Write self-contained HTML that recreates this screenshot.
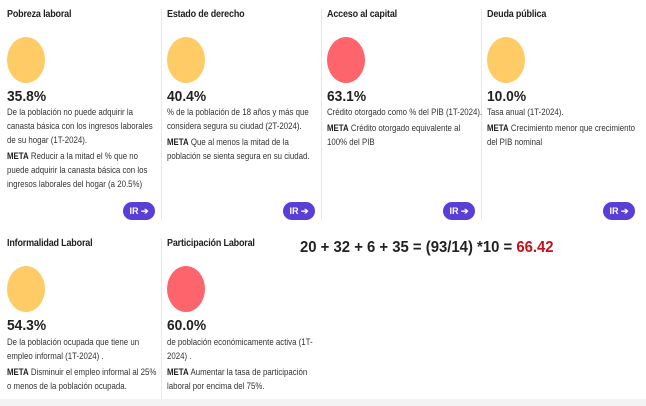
<!DOCTYPE html>
<html><head><meta charset="utf-8"><style>
*{margin:0;padding:0;box-sizing:border-box}
body{width:646px;height:406px;background:#fff;position:relative;overflow:hidden;font-family:"Liberation Sans",sans-serif;color:#222}
.c{position:absolute;width:156px}
.t{position:absolute;font-size:10px;font-weight:bold;letter-spacing:-0.2px;white-space:nowrap;transform:scaleX(.9);transform-origin:left}
.o{position:absolute;width:38px;height:46px;border-radius:50%}
.y{background:#fecb67}.r{background:#fe646b}
.v{position:absolute;font-size:15px;font-weight:bold;transform:scaleX(.92);transform-origin:left}
.d{position:absolute;font-size:9.6px;line-height:14px;color:#333;width:183px;transform:scaleX(.82);transform-origin:left top}
.d p{margin-bottom:2px}
b{color:#222}
.btn{position:absolute;width:32px;height:18px;border-radius:9px;background:#5a3fd6;color:#fff;font-size:9px;font-weight:bold;text-align:center;line-height:18px}
.dv{position:absolute;width:1px;background:#eee3ee}
</style></head><body>
<div class="dv" style="left:161px;top:9px;height:212px"></div>
<div class="dv" style="left:321px;top:9px;height:212px"></div>
<div class="dv" style="left:481px;top:9px;height:212px"></div>
<div class="dv" style="left:161px;top:238px;height:162px"></div>

<div class="c" style="left:7px;top:0">
<div class="t" style="top:9px">Pobreza laboral</div>
<div class="o y" style="top:37px"></div>
<div class="v" style="top:88px">35.8%</div>
<div class="d" style="top:106px"><p>De la población no puede adquirir la canasta básica con los ingresos laborales de su hogar (1T-2024).</p><p><b>META</b> Reducir a la mitad el % que no puede adquirir la canasta básica con los ingresos laborales del hogar (a 20.5%)</p></div>
<div class="btn" style="left:116px;top:202px">IR ➔</div>
</div>

<div class="c" style="left:167px;top:0">
<div class="t" style="top:9px">Estado de derecho</div>
<div class="o y" style="top:37px"></div>
<div class="v" style="top:88px">40.4%</div>
<div class="d" style="top:106px"><p>% de la población de 18 años y más que considera segura su ciudad (2T-2024).</p><p><b>META</b> Que al menos la mitad de la población se sienta segura en su ciudad.</p></div>
<div class="btn" style="left:116px;top:202px">IR ➔</div>
</div>

<div class="c" style="left:327px;top:0">
<div class="t" style="top:9px">Acceso al capital</div>
<div class="o r" style="top:37px"></div>
<div class="v" style="top:88px">63.1%</div>
<div class="d" style="top:106px;width:186px"><p style="white-space:nowrap">Crédito otorgado como % del PIB (1T-2024).</p><p><b>META</b> Crédito otorgado equivalente al 100% del PIB</p></div>
<div class="btn" style="left:116px;top:202px">IR ➔</div>
</div>

<div class="c" style="left:487px;top:0">
<div class="t" style="top:9px">Deuda pública</div>
<div class="o y" style="top:37px"></div>
<div class="v" style="top:88px">10.0%</div>
<div class="d" style="top:106px;width:190px"><p>Tasa anual (1T-2024).</p><p><b>META</b> Crecimiento menor que crecimiento del PIB nominal</p></div>
<div class="btn" style="left:116px;top:202px">IR ➔</div>
</div>

<div class="c" style="left:7px;top:0">
<div class="t" style="top:238px">Informalidad Laboral</div>
<div class="o y" style="top:266px"></div>
<div class="v" style="top:317px">54.3%</div>
<div class="d" style="top:336px"><p>De la población ocupada que tiene un empleo informal (1T-2024) .</p><p><b>META</b> Disminuir el empleo informal al 25% o menos de la población ocupada.</p></div>
</div>

<div class="c" style="left:167px;top:0">
<div class="t" style="top:238px">Participación Laboral</div>
<div class="o r" style="top:266px"></div>
<div class="v" style="top:317px">60.0%</div>
<div class="d" style="top:336px;width:178px"><p>de población económicamente activa (1T-2024) .</p><p><b>META</b> Aumentar la tasa de participación laboral por encima del 75%.</p></div>
</div>

<div style="position:absolute;left:300px;top:239px;font-size:16px;font-weight:bold;white-space:nowrap;transform:scaleX(.93);transform-origin:left">20 + 32 + 6 + 35 = (93/14) *10 = <span style="color:#c8101a">66.42</span></div>
<div style="position:absolute;left:0;top:399px;width:646px;height:7px;background:#f3f3f3"></div>
</body></html>
